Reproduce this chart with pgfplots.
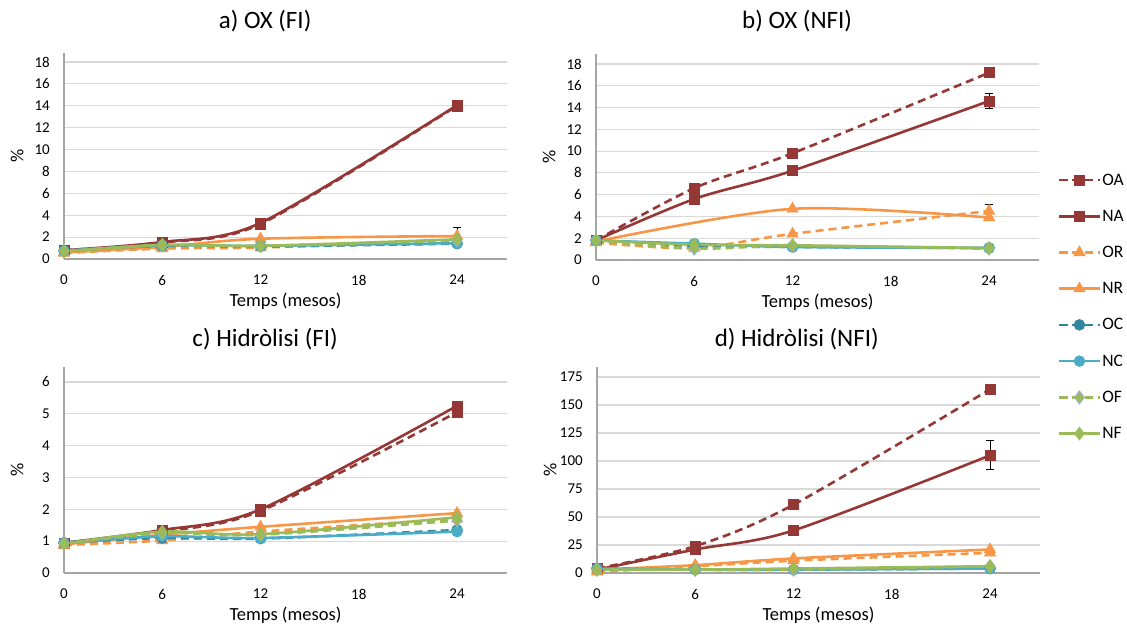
\documentclass[border=0pt]{standalone}
\usepackage{fontspec}
\setmainfont{Carlito}
\usepackage{pgfplots}
\pgfplotsset{compat=1.18}

\definecolor{cA}{RGB}{149,55,53}
\definecolor{cR}{RGB}{247,150,70}
\definecolor{cOC}{RGB}{49,133,156}
\definecolor{cNC}{RGB}{75,172,198}
\definecolor{cF}{RGB}{155,187,89}
\definecolor{ofedge}{RGB}{150,180,215}
\definecolor{gridgray}{RGB}{217,217,217}
\definecolor{axisgray}{RGB}{165,165,165}

\pgfplotsset{
  dsh/.style={dash pattern=on 8pt off 5pt},
  sOA/.style={cA, dsh, mark=square*, mark size=5pt, mark options={solid, fill=cA, draw=cA, line width=0.5pt}},
  sNA/.style={cA, mark=square*, mark size=5pt, mark options={solid, fill=cA, draw=cA, line width=0.5pt}},
  sOR/.style={cR, dsh, mark=triangle*, mark size=6.6pt, mark options={solid, fill=cR, draw=cR, line width=0.5pt}},
  sNR/.style={cR, mark=triangle*, mark size=6.6pt, mark options={solid, fill=cR, draw=cR, line width=0.5pt}},
  sOC/.style={cOC, dsh, mark=*, mark size=5.5pt, mark options={solid, fill=cOC, draw=cOC, line width=0.5pt}},
  sNC/.style={cNC, mark=*, mark size=5.5pt, mark options={solid, fill=cNC, draw=cNC, line width=0.5pt}},
  sOF/.style={cF, dsh, mark=diamond*, mark size=6.6pt, mark options={solid, fill=cF, draw=ofedge, line width=0.8pt}},
  sNF/.style={cF, mark=diamond*, mark size=6.6pt, mark options={solid, fill=cF, draw=cF, line width=0.5pt}},
  ebar/.style={forget plot, mark=none, draw=none,
    error bars/.cd, y dir=both, y explicit,
    error bar style={draw=black, line width=1pt, solid},
    error mark options={rotate=90, draw=black, line width=1pt, mark size=4pt}},
  panel/.style={
    scale only axis, width=443pt, height=206pt,
    xmin=0, xmax=27.05, ymin=0,
    xtick={0,6,12,18,24},
    axis x line*=bottom, axis y line*=left,
    axis line style={draw=axisgray, line width=1.2pt},
    major tick length=0pt,
    ymajorgrids, grid style={draw=gridgray, line width=1.2pt},
    ticklabel style={font=\fontsize{15}{18}\selectfont, inner sep=0pt},
    yticklabel style={xshift=-14pt},
    xticklabel style={yshift=-16pt},
    /pgf/number format/assume math mode=true,
    xlabel={Temps (mesos)}, ylabel={\%},
    label style={font=\fontsize{18.5}{22}\selectfont},
    xlabel style={at={(axis description cs:0.5,-0.204)}, anchor=center},
    ylabel style={at={(axis description cs:-0.106,0.5)}, anchor=center},
    title style={font=\fontsize{25}{30}\selectfont, anchor=center},
    every axis plot/.append style={line width=2.6pt, smooth},
    clip=false,
  },
}

\begin{document}
\begin{tikzpicture}
\useasboundingbox (0,0) rectangle (1127pt,624pt);

% a) OX (FI)
\begin{axis}[panel, at={(64pt,365pt)}, anchor=south west,
  ymax=18.82, ytick={0,2,...,18},
  title={a) OX (FI)}, title style={at={(axis description cs:0.454,1.126)}}]
\addplot[sOA] coordinates {(0,0.8)(6,1.5)(12,3.2)(24,14.0)};
\addplot[sNA] coordinates {(0,0.8)(6,1.55)(12,3.3)(24,14.05)};
\addplot[sOR] coordinates {(0,0.55)(6,0.95)(12,1.05)(24,1.6)};
\addplot[sNR] coordinates {(0,0.6)(6,1.1)(12,1.85)(24,2.1)};
\addplot[sOC] coordinates {(0,0.75)(6,1.2)(12,1.15)(24,1.4)};
\addplot[sNC] coordinates {(0,0.75)(6,1.25)(12,1.2)(24,1.45)};
\addplot[sOF] coordinates {(0,0.7)(6,1.25)(12,1.2)(24,1.7)};
\addplot[sNF] coordinates {(0,0.7)(6,1.3)(12,1.2)(24,1.8)};
\addplot[ebar] coordinates {(24,2.1) +- (0,0.8)};
\end{axis}

% b) OX (NFI)
\begin{axis}[panel, at={(596pt,364pt)}, anchor=south west,
  ymax=18.92, ytick={0,2,...,18},
  title={b) OX (NFI)}, title style={at={(axis description cs:0.454,1.131)}},
  legend style={at={(axis description cs:1.036,0.437)}, anchor=north west,
    draw=none, fill=none, font=\fontsize{17.5}{21}\selectfont,
    row sep=20.4pt, nodes={inner sep=1.5pt}},
  legend cell align=left,
  legend image code/.code={\draw[#1, mark repeat=2, mark phase=2] plot coordinates {(0pt,0pt)(20pt,0pt)(40pt,0pt)};}]
\addplot[sOA] coordinates {(0,1.8)(6,6.6)(12,9.8)(24,17.2)};
\addlegendentry{OA}
\addplot[sNA] coordinates {(0,1.8)(6,5.6)(12,8.2)(24,14.6)};
\addlegendentry{NA}
\addplot[sOR] coordinates {(0,1.6)(6,1.1)(12,2.4)(24,4.5)};
\addlegendentry{OR}
\addplot[sNR] coordinates {(0,1.7)(12,4.7)(24,3.9)};
\addlegendentry{NR}
\addplot[sOC] coordinates {(0,1.8)(6,1.3)(12,1.2)(24,1.1)};
\addlegendentry{OC}
\addplot[sNC] coordinates {(0,1.8)(6,1.5)(12,1.2)(24,1.1)};
\addlegendentry{NC}
\addplot[sOF] coordinates {(0,1.8)(6,1.05)(12,1.3)(24,1.05)};
\addlegendentry{OF}
\addplot[sNF] coordinates {(0,1.8)(6,1.4)(12,1.35)(24,1.1)};
\addlegendentry{NF}
\addplot[ebar] coordinates {(24,14.6) +- (0,0.7)};
\addplot[ebar] coordinates {(24,4.5) +- (0,0.6)};
\end{axis}

% c) Hidrolisi (FI)
\begin{axis}[panel, at={(64pt,51pt)}, anchor=south west,
  ymax=6.47, ytick={0,1,...,6},
  title={c) Hidròlisi (FI)}, title style={at={(axis description cs:0.454,1.107)}}]
\addplot[sOA] coordinates {(0,0.95)(6,1.3)(12,1.95)(24,5.05)};
\addplot[sNA] coordinates {(0,0.95)(6,1.35)(12,2.0)(24,5.25)};
\addplot[sOR] coordinates {(0,0.88)(6,1.02)(12,1.3)(24,1.7)};
\addplot[sNR] coordinates {(0,0.9)(6,1.2)(12,1.45)(24,1.88)};
\addplot[sOC] coordinates {(0,0.95)(6,1.1)(12,1.08)(24,1.35)};
\addplot[sNC] coordinates {(0,0.95)(6,1.15)(12,1.1)(24,1.3)};
\addplot[sOF] coordinates {(0,0.92)(6,1.25)(12,1.2)(24,1.65)};
\addplot[sNF] coordinates {(0,0.92)(6,1.3)(12,1.22)(24,1.75)};
\addplot[ebar] coordinates {(24,5.05) +- (0,0.1)};
\end{axis}

% d) Hidrolisi (NFI)
\begin{axis}[panel, at={(597pt,51pt)}, anchor=south west,
  ymax=183.9, ytick={0,25,...,175},
  title={d) Hidròlisi (NFI)}, title style={at={(axis description cs:0.451,1.107)}}]
\addplot[sOA] coordinates {(0,4)(6,24)(12,61)(24,164)};
\addplot[sNA] coordinates {(0,3)(6,21)(12,38)(24,105)};
\addplot[sOR] coordinates {(0,1)(6,6)(12,11)(24,18)};
\addplot[sNR] coordinates {(0,3)(6,7)(12,13)(24,21)};
\addplot[sOC] coordinates {(0,4)(6,3)(12,3)(24,4)};
\addplot[sNC] coordinates {(0,4)(6,3)(12,3)(24,4)};
\addplot[sOF] coordinates {(0,3)(6,3)(12,3)(24,6)};
\addplot[sNF] coordinates {(0,3)(6,3)(12,4)(24,6)};
\addplot[ebar] coordinates {(24,105) +- (0,13)};
\end{axis}
\end{tikzpicture}
\end{document}
